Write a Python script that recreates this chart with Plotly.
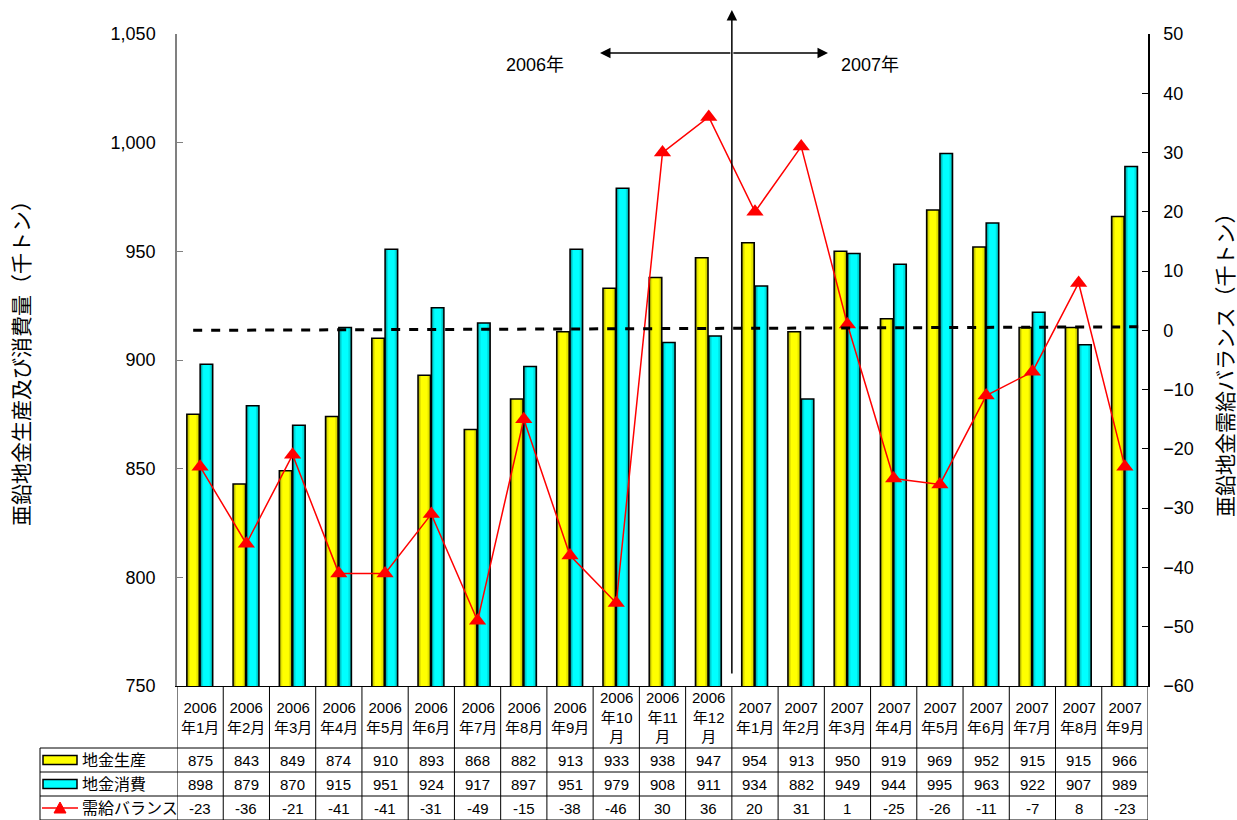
import plotly.graph_objects as go

# Monthly zinc ingot figures (thousand tonnes)
months = ["2006<br>年1月", "2006<br>年2月", "2006<br>年3月", "2006<br>年4月", "2006<br>年5月",
          "2006<br>年6月", "2006<br>年7月", "2006<br>年8月", "2006<br>年9月", "2006<br>年10<br>月",
          "2006<br>年11<br>月", "2006<br>年12<br>月", "2007<br>年1月", "2007<br>年2月", "2007<br>年3月",
          "2007<br>年4月", "2007<br>年5月", "2007<br>年6月", "2007<br>年7月", "2007<br>年8月", "2007<br>年9月"]
production = [875, 843, 849, 874, 910, 893, 868, 882, 913, 933, 938, 947, 954, 913, 950, 919, 969, 952, 915, 915, 966]
consumption = [898, 879, 870, 915, 951, 924, 917, 897, 951, 979, 908, 911, 934, 882, 949, 944, 995, 963, 922, 907, 989]
balance = [-23, -36, -21, -41, -41, -31, -49, -15, -38, -46, 30, 36, 20, 31, 1, -25, -26, -11, -7, 8, -23]
series_names = ["地金生産", "地金消費", "需給バランス"]
balance_ref = [0, 0.6]  # dashed reference level on the balance axis (start, end)

FONT = "Liberation Sans, Arial, Noto Sans CJK JP, sans-serif"
W, H = 1237, 820
ML, MR, MT, MB = 177, 89, 34, 134
PW, PH = W - ML - MR, H - MT - MB
cat_px = PW / len(months)
x = list(range(len(months)))


def py(p):
    """pixel row -> paper y"""
    return (H - MB - p) / PH


def px(p):
    """pixel column -> paper x"""
    return (p - ML) / PW


fig = go.Figure()

bar_w = 12.6 / cat_px


def add_cylinder(values, offset, shades):
    dark, mid, bright = shades
    layers = [(dark, 0.0, bar_w), (mid, 1.5 / cat_px, bar_w - 2.8 / cat_px),
              (bright, 3.0 / cat_px, bar_w - 6.0 / cat_px)]
    for col, o, w in layers:
        fig.add_trace(go.Bar(x=x, y=values, offset=offset + o, width=w, marker_color=col,
                             marker_line_width=0, showlegend=False, hoverinfo="skip", yaxis="y"))
    fig.add_trace(go.Bar(x=x, y=values, offset=offset, width=bar_w,
                         marker=dict(color="rgba(0,0,0,0)", line=dict(color="black", width=1.5)),
                         showlegend=False, yaxis="y"))


add_cylinder(production, -13.3 / cat_px, ("#9c9c00", "#e4e400", "#ffff00"))
add_cylinder(consumption, 0.0, ("#009a9a", "#00e0e0", "#00ffff"))

fig.add_trace(go.Scatter(x=x, y=balance, yaxis="y2", mode="lines+markers",
                         line=dict(color="#ff0000", width=1.5),
                         marker=dict(symbol="triangle-up", size=15, color="#ff0000"),
                         showlegend=False, cliponaxis=False))

shapes = []
# dashed balance reference line
shapes.append(dict(type="line", xref="x", yref="y2", x0=-0.15, x1=20.35,
                   y0=balance_ref[0], y1=balance_ref[1], layer="above",
                   line=dict(color="black", width=3, dash="dash")))

# data table grid
row_px = [H - MB, 748, 772, 796, 820]
tbl_left = 40
for i in range(len(months) + 1):
    shapes.append(dict(type="line", xref="x", yref="paper", x0=i - 0.5, x1=i - 0.5,
                       y0=py(row_px[0]), y1=py(row_px[-1]), line=dict(color="black", width=1)))
for r in row_px[1:]:
    shapes.append(dict(type="line", xref="paper", yref="paper", x0=px(tbl_left), x1=1,
                       y0=py(r), y1=py(r), line=dict(color="black", width=1)))
shapes.append(dict(type="line", xref="paper", yref="paper", x0=px(tbl_left), x1=px(tbl_left),
                   y0=py(row_px[1]), y1=py(row_px[-1]), line=dict(color="black", width=1)))

# legend keys in the table rows
row_mid = [(row_px[k] + row_px[k + 1]) / 2 for k in range(4)]
for k, fill in enumerate(["#ffff00", "#00ffff"]):
    c = row_mid[k + 1]
    shapes.append(dict(type="rect", xref="paper", yref="paper", x0=px(43), x1=px(77),
                       y0=py(c + 4.5), y1=py(c - 4.5), fillcolor=fill,
                       line=dict(color="black", width=1.5)))
c = row_mid[3]
shapes.append(dict(type="line", xref="paper", yref="paper", x0=px(42), x1=px(78),
                   y0=py(c), y1=py(c), line=dict(color="#ff0000", width=1.5)))
tri = f"M {px(54)} {py(c + 5)} L {px(66)} {py(c + 5)} L {px(60)} {py(c - 6)} Z"
shapes.append(dict(type="path", xref="paper", yref="paper", path=tri,
                   fillcolor="#ff0000", line=dict(color="#ff0000", width=1)))

annotations = []
for i, m in enumerate(months):
    annotations.append(dict(x=i, y=py(row_mid[0]), xref="x", yref="paper", text=m,
                            showarrow=False, font=dict(size=15, color="black"),
                            align="center", xanchor="center", yanchor="middle"))
    for k, vals in enumerate([production, consumption, balance]):
        annotations.append(dict(x=i, y=py(row_mid[k + 1]), xref="x", yref="paper",
                                text=str(vals[i]), showarrow=False, xanchor="center",
                                font=dict(size=15, color="black"), yanchor="middle"))
for k, name in enumerate(series_names):
    annotations.append(dict(x=px(80), y=py(row_mid[k + 1]), xref="paper", yref="paper",
                            text=name, showarrow=False, xanchor="left", yanchor="middle",
                            font=dict(size=16, color="black")))

# axis titles
annotations.append(dict(x=px(21), y=py(358), xref="paper", yref="paper",
                        text="亜鉛地金生産及び消費量（千トン）", textangle=-90, showarrow=False,
                        xanchor="center", yanchor="middle", font=dict(size=21, color="black")))
annotations.append(dict(x=px(1225), y=py(360), xref="paper", yref="paper",
                        text="亜鉛地金需給バランス（千トン）", textangle=-90, showarrow=False,
                        xanchor="center", yanchor="middle", font=dict(size=21, color="black")))

# year divider arrows
divider = 11.5
annotations.append(dict(x=divider, y=py(10), xref="x", yref="paper", ax=0, ay=665,
                        axref="pixel", ayref="pixel", text="", showarrow=True,
                        arrowhead=2, arrowsize=1.4, arrowwidth=1.5, arrowcolor="black"))
arrow_y = py(53)
for end in [(600 - ML) / cat_px - 0.5, (828 - ML) / cat_px - 0.5]:
    annotations.append(dict(x=end, y=arrow_y, xref="x", yref="paper", ax=divider, ay=0,
                            axref="x", ayref="pixel", text="", showarrow=True,
                            arrowhead=2, arrowsize=1.4, arrowwidth=1.5, arrowcolor="black"))
annotations.append(dict(x=(535 - ML) / cat_px - 0.5, y=arrow_y, xref="x", yref="paper",
                        text="2006年", showarrow=False, xanchor="center",
                        font=dict(size=18, color="black")))
annotations.append(dict(x=(870 - ML) / cat_px - 0.5, y=arrow_y, xref="x", yref="paper",
                        text="2007年", showarrow=False, xanchor="center",
                        font=dict(size=18, color="black")))

fig.update_layout(
    width=W, height=H, margin=dict(l=ML, r=MR, t=MT, b=MB),
    paper_bgcolor="white", plot_bgcolor="white",
    font=dict(family=FONT, color="black"),
    barmode="overlay", showlegend=False,
    xaxis=dict(range=[-0.5, len(months) - 0.5], showticklabels=False, showgrid=False,
               zeroline=False, showline=True, linecolor="black", linewidth=1, ticks=""),
    yaxis=dict(range=[750, 1050], dtick=50, tickformat=",", ticks="inside", ticklen=6,
               tickcolor="#808080", showline=True, linecolor="#808080", linewidth=1.5,
               showgrid=False, zeroline=False, tickfont=dict(size=18), ticklabelstandoff=16),
    yaxis2=dict(range=[-60, 50], dtick=10, overlaying="y", side="right", ticks="inside",
                ticklen=6, tickcolor="black", showline=True, linecolor="black", linewidth=1.5,
                showgrid=False, zeroline=False, tickfont=dict(size=18), ticklabelstandoff=10),
    shapes=shapes, annotations=annotations,
)

fig.write_html("out.html")
